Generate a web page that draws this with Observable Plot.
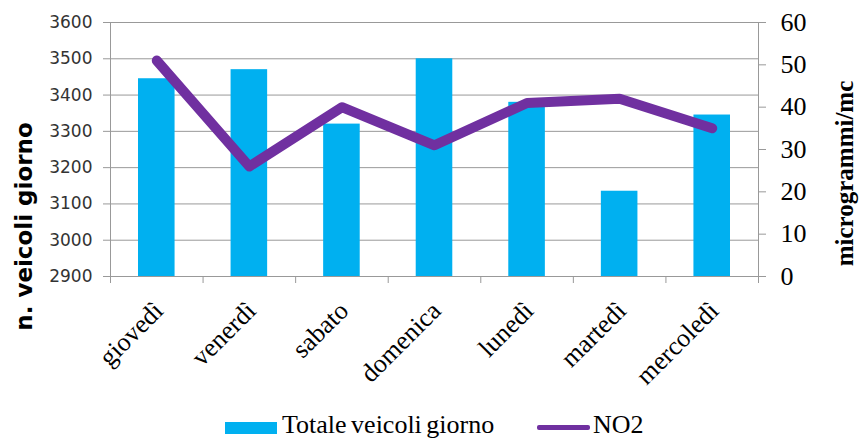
<!DOCTYPE html>
<html>
<head>
<meta charset="utf-8">
<script src="https://cdn.jsdelivr.net/npm/d3@7"></script>
<script src="https://cdn.jsdelivr.net/npm/@observablehq/plot@0.6"></script>
<style>
  html, body { margin: 0; padding: 0; background: #fff; }
  #wrap { position: relative; width: 859px; height: 439px; overflow: hidden; }
  #chart { position: absolute; left: 0; top: 0; }
  .leg { position: absolute; font-family: "Liberation Serif", "Times New Roman", Times, "DejaVu Serif", serif; font-size: 26px; line-height: 26px; color: #000; white-space: nowrap; word-spacing: -2px; }
  .sw { position: absolute; }
</style>
</head>
<body>
<div id="wrap">
  <div id="chart"></div>
  <div class="sw" style="left:225px; top:422px; width:52px; height:12px; background:#00B0F0;"></div>
  <div class="leg" style="left:282px; top:412px;">Totale veicoli giorno</div>
  <div class="sw" style="left:537px; top:425px; width:53px; height:5px; background:#7030A0; border-radius:2px;"></div>
  <div class="leg" style="left:593px; top:412px;">NO2</div>
</div>
<script>
// Daily traffic counts and NO2 concentration
const days = ["giovedì", "venerdì", "sabato", "domenica", "lunedì", "martedì", "mercoledì"];
const veicoli = [3445, 3470, 3320, 3500, 3380, 3135, 3345];
const no2 = [51, 26, 40, 31, 41, 42, 35];
const leftTicks = [2900, 3000, 3100, 3200, 3300, 3400, 3500, 3600];
const rightTicks = [0, 10, 20, 30, 40, 50, 60];

const data = days.map((d, i) => ({day: d, i, veicoli: veicoli[i], no2: no2[i]}));

const SERIF = "'Liberation Serif', 'Times New Roman', Times, 'DejaVu Serif', serif";
const SANS = "'DejaVu Sans', Verdana, sans-serif";

// Secondary axis (µg/m³) mapped onto the primary vehicle scale
const yMin = 2900, yMax = 3600, rMin = 0, rMax = 60;
const toLeft = v => yMin + (v - rMin) * (yMax - yMin) / (rMax - rMin);
const fromLeft = y => rMin + (y - yMin) * (rMax - rMin) / (yMax - yMin);

const W = 859, H = 412;
const plot = Plot.plot({
  width: W,
  height: H,
  marginLeft: 110,
  marginRight: 101,
  marginTop: 22,
  marginBottom: H - 276,
  x: {type: "linear", domain: [0, days.length]},
  y: {domain: [yMin, yMax]},
  style: {background: "#fff", overflow: "visible"},
  marks: [
    Plot.gridY(leftTicks, {stroke: "#999", strokeOpacity: 1}),
    Plot.rectY(data, {
      x1: d => d.i, x2: d => d.i + 1, y1: yMin, y2: "veicoli",
      fill: "#00B0F0", insetLeft: 28, insetRight: 28
    }),
    Plot.frame({stroke: "#999"}),
    // category boundary ticks
    Plot.axisX(d3.range(0, days.length + 1), {
      tickSize: 7, tickFormat: () => "", stroke: "#999"
    }),
    // category labels
    Plot.axisX(d3.range(days.length).map(i => i + 0.5), {
      tickSize: 0, tickRotate: -45, tickPadding: 30,
      tickFormat: v => days[Math.round(v - 0.5)],
      fontSize: 26, fontFamily: SERIF,
      fill: "#000", dx: 2
    }),
    Plot.axisY(leftTicks, {
      anchor: "left", tickSize: 7, tickPadding: 11, stroke: "#999",
      fill: "#333", fontSize: 17, fontFamily: SANS,
      tickFormat: d => String(d), label: null
    }),
    Plot.axisY(rightTicks.map(toLeft), {
      anchor: "right", tickSize: 7, tickPadding: 15, stroke: "#999",
      fill: "#000", fontSize: 26, fontFamily: SERIF,
      tickFormat: y => String(Math.round(fromLeft(y))), label: null
    }),
    Plot.line(data, {
      x: d => d.i + 0.5, y: d => toLeft(d.no2),
      stroke: "#7030A0", strokeWidth: 10,
      strokeLinecap: "round", strokeLinejoin: "round"
    }),
    // axis titles
    Plot.text(["n. veicoli giorno"], {
      frameAnchor: "left", rotate: -90, dx: -86, dy: 77,
      textAnchor: "middle", lineAnchor: "middle",
      fontSize: 23, fontWeight: "bold", fill: "#000", fontFamily: SANS
    }),
    Plot.text(["microgrammi/mc"], {
      frameAnchor: "right", rotate: -90, dx: 86, dy: 24,
      textAnchor: "middle", lineAnchor: "middle",
      fontSize: 25, fontWeight: "bold", fill: "#000", fontFamily: SERIF
    })
  ]
});
document.getElementById("chart").appendChild(plot);
</script>
</body>
</html>
